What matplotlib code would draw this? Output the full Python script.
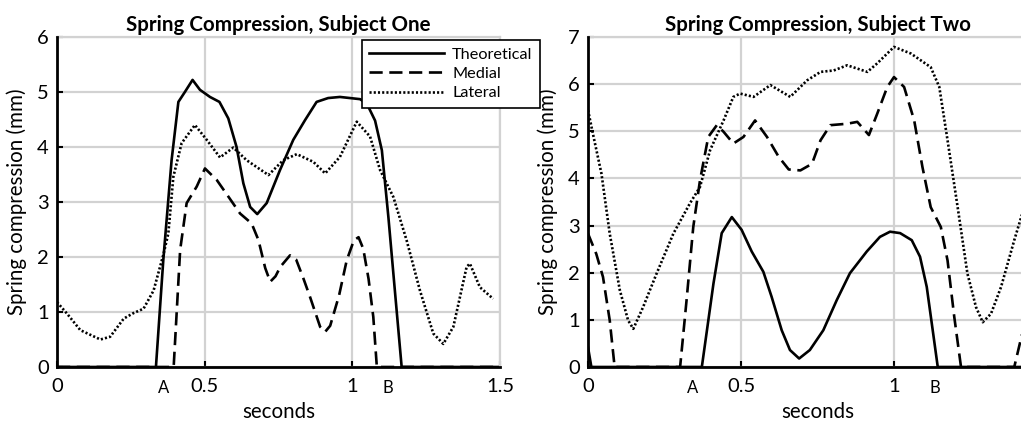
import matplotlib
matplotlib.use("Agg")
import matplotlib.pyplot as plt
import matplotlib.transforms as mtransforms

plt.rcParams['font.family'] = ['Lato', 'DejaVu Sans']

# ---------------- Subject One ----------------
s1_theo_t = [0.0, 0.335, 0.36, 0.388, 0.411, 0.433, 0.459, 0.484, 0.518, 0.55, 0.58, 0.608,
             0.631, 0.654, 0.678, 0.71, 0.755, 0.80, 0.84, 0.879, 0.918, 0.958, 1.026,
             1.049, 1.077, 1.10, 1.122, 1.145, 1.167, 1.5]
s1_theo_v = [0.0, 0.0, 1.95, 3.76, 4.82, 5.0, 5.22, 5.04, 4.91, 4.82, 4.52, 4.0,
             3.34, 2.91, 2.78, 2.98, 3.58, 4.13, 4.49, 4.82, 4.89, 4.91, 4.87,
             4.79, 4.48, 3.94, 2.73, 1.33, 0.0, 0.0]

s1_med_t = [0.0, 0.395, 0.417, 0.439, 0.473, 0.501, 0.541, 0.58, 0.62, 0.659, 0.682, 0.705,
            0.722, 0.74, 0.756, 0.789, 0.81, 0.835, 0.857, 0.891, 0.908, 0.925, 0.955,
            0.981, 1.005, 1.021, 1.037, 1.055, 1.071, 1.083, 1.5]
s1_med_v = [0.0, 0.0, 2.13, 2.98, 3.28, 3.61, 3.4, 3.1, 2.79, 2.61, 2.31, 1.8,
            1.55, 1.65, 1.82, 2.03, 1.95, 1.6, 1.27, 0.73, 0.64, 0.75, 1.3,
            1.94, 2.3, 2.36, 2.15, 1.6, 0.91, 0.0, 0.0]

s1_lat_t = [0.0, 0.034, 0.079, 0.147, 0.18, 0.226, 0.259, 0.293, 0.327, 0.361, 0.377, 0.394,
            0.422, 0.467, 0.507, 0.552, 0.597, 0.642, 0.716, 0.766, 0.812, 0.868, 0.908,
            0.958, 1.015, 1.06, 1.094, 1.139, 1.184, 1.229, 1.274, 1.308, 1.342, 1.387,
            1.398, 1.432, 1.477]
s1_lat_v = [1.18, 0.97, 0.67, 0.5, 0.55, 0.88, 0.98, 1.06, 1.39, 2.06, 2.43, 3.46,
            4.07, 4.4, 4.13, 3.81, 3.99, 3.76, 3.49, 3.76, 3.87, 3.73, 3.52,
            3.82, 4.46, 4.19, 3.58, 3.09, 2.3, 1.39, 0.61, 0.42, 0.73, 1.82,
            1.88, 1.45, 1.24]

# ---------------- Subject Two ----------------
s2_theo_t = [0.0, 0.011, 0.372, 0.41, 0.437, 0.47, 0.502, 0.535, 0.573, 0.6, 0.633, 0.66,
             0.69, 0.725, 0.769, 0.813, 0.856, 0.911, 0.954, 0.987, 1.02, 1.058, 1.085,
             1.107, 1.128, 1.143, 1.5]
s2_theo_v = [0.42, 0.0, 0.0, 1.77, 2.84, 3.18, 2.91, 2.45, 2.02, 1.49, 0.78, 0.36,
             0.18, 0.36, 0.78, 1.42, 1.99, 2.45, 2.76, 2.87, 2.84, 2.69, 2.34,
             1.7, 0.71, 0.0, 0.0]

s2_med_t = [0.0, 0.027, 0.049, 0.071, 0.087, 0.301, 0.322, 0.344, 0.366, 0.393, 0.421, 0.443,
            0.475, 0.508, 0.546, 0.585, 0.623, 0.656, 0.694, 0.732, 0.760, 0.792, 0.847,
            0.880, 0.918, 0.945, 0.978, 1.0, 1.033, 1.066, 1.093, 1.120, 1.153, 1.175,
            1.197, 1.219, 1.393, 1.419, 1.44]
s2_med_v = [2.83, 2.4, 1.91, 0.99, 0.0, 0.0, 1.41, 2.97, 3.96, 4.88, 5.13, 4.99,
            4.74, 4.88, 5.23, 4.88, 4.46, 4.19, 4.17, 4.31, 4.81, 5.13, 5.16,
            5.2, 4.92, 5.37, 5.94, 6.15, 5.94, 5.23, 4.24, 3.39, 2.97, 2.26,
            1.06, 0.0, 0.0, 0.71, 1.4]

s2_lat_t = [0.0, 0.016, 0.044, 0.071, 0.104, 0.131, 0.148, 0.18, 0.224, 0.279, 0.333, 0.366,
            0.399, 0.443, 0.475, 0.497, 0.541, 0.596, 0.661, 0.716, 0.760, 0.803, 0.847,
            0.913, 0.945, 1.0, 1.055, 1.120, 1.148, 1.175, 1.208, 1.240, 1.268, 1.290,
            1.317, 1.350, 1.393, 1.419, 1.44]
s2_lat_v = [5.45, 4.95, 4.1, 2.83, 1.63, 0.99, 0.81, 1.27, 1.98, 2.83, 3.47, 3.82,
            4.6, 5.23, 5.73, 5.8, 5.73, 5.98, 5.73, 6.08, 6.26, 6.29, 6.4,
            6.26, 6.44, 6.79, 6.65, 6.36, 5.94, 4.81, 3.39, 1.98, 1.27, 0.95,
            1.13, 1.7, 2.69, 3.25, 3.7]

titles = ["Spring Compression, Subject One", "Spring Compression, Subject Two"]
ylims = [6, 7]
xticks = [[0, 0.5, 1, 1.5], [0, 0.5, 1]]
xticklabels = [["0", "0.5", "1", "1.5"], ["0", "0.5", "1"]]
event_pos = [[0.36, 1.12], [0.343, 1.134]]
event_labels = ["A", "B"]
legend_labels = ["Theoretical", "Medial", "Lateral"]

W, H = 1021, 425
fig = plt.figure(figsize=(W / 100, H / 100), dpi=100)

ax1 = fig.add_axes([57 / W, 1 - 367 / H, 443 / W, 330 / H])
ax2 = fig.add_axes([588 / W, 1 - 367 / H, 459 / W, 330 / H])

DASH = (0, (5.0, 2.5))
DOT = (0, (0.8, 0.8))
LW = 1.9

data = [
    (s1_theo_t, s1_theo_v, s1_med_t, s1_med_v, s1_lat_t, s1_lat_v),
    (s2_theo_t, s2_theo_v, s2_med_t, s2_med_v, s2_lat_t, s2_lat_v),
]

handles = None
for i, ax in enumerate([ax1, ax2]):
    tt, tv, mt, mv, lt, lv = data[i]
    h1, = ax.plot(tt, tv, color='black', lw=LW, ls='-', label=legend_labels[0])
    h2, = ax.plot(mt, mv, color='black', lw=LW, ls=DASH, label=legend_labels[1])
    h3, = ax.plot(lt, lv, color='black', lw=LW, ls=DOT, label=legend_labels[2])
    if handles is None:
        handles = [h1, h2, h3]
    ax.set_xlim(0, 1.5)
    ax.set_ylim(0, ylims[i])
    ax.set_xticks(xticks[i])
    ax.set_xticklabels(xticklabels[i])
    ax.set_yticks(range(0, ylims[i] + 1))
    ax.grid(True, color='#d2d2d2', lw=1.6)
    ax.set_axisbelow(True)
    for sp in ['top', 'right']:
        ax.spines[sp].set_color('#d2d2d2')
        ax.spines[sp].set_linewidth(1.6)
    for sp in ['left', 'bottom']:
        ax.spines[sp].set_color('black')
        ax.spines[sp].set_linewidth(2.0)
        ax.spines[sp].set_zorder(5)
    ax.tick_params(direction='in', length=4, width=1.5, labelsize=14.5,
                   top=False, right=False)
    ax.tick_params(axis='x', pad=8)
    ax.tick_params(axis='y', pad=6)
    ax.set_title(titles[i], fontsize=14.8, fontweight='bold', pad=4)
    ax.set_xlabel("seconds", fontsize=14.8, labelpad=5)
    ax.set_ylabel("Spring compression (mm)", fontsize=14.8, labelpad=7)
    trans = mtransforms.blended_transform_factory(ax.transData, ax.transAxes)
    for xp, lab in zip(event_pos[i], event_labels):
        ax.text(xp, -0.04, lab, transform=trans, ha='center', va='top', fontsize=12)

leg = fig.legend(handles=handles, labels=legend_labels, loc='upper left',
                 bbox_to_anchor=(362 / W, 1 - 40 / H), fontsize=11.7, handlelength=4.6,
                 frameon=True, fancybox=False, edgecolor='black', framealpha=1,
                 borderpad=0.45, labelspacing=0.3, handletextpad=0.5, borderaxespad=0)
leg.get_frame().set_linewidth(1.2)

fig.savefig("out.png", dpi=100)
